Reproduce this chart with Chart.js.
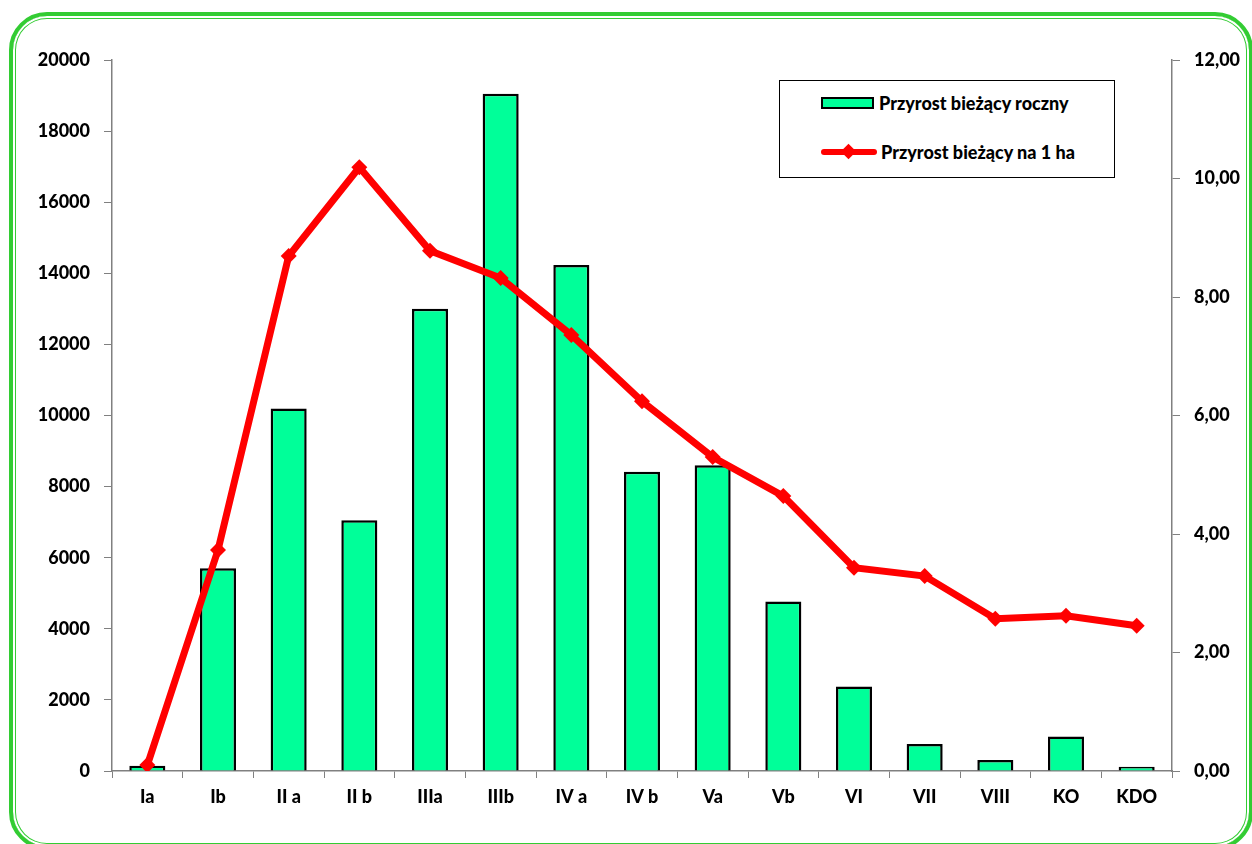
<!DOCTYPE html>
<html>
<head>
<meta charset="utf-8">
<script src="https://cdn.jsdelivr.net/npm/chart.js@4/dist/chart.umd.min.js"></script>
<style>
    html, body { margin: 0; padding: 0; background: #fff; overflow: hidden; }
    #wrap { position: relative; width: 1252px; height: 844px; overflow: hidden; }
    #frame {
        position: absolute; left: 9px; top: 12px; width: 1236px; height: 830px;
        border: 4px solid #33cc33; border-radius: 38px;
        box-shadow: inset 0 0 0 2px #fff, inset 0 0 0 3px #33cc33;
    }
    #chartBox { position: absolute; left: 0; top: 0; width: 1252px; height: 844px; }
    #legend {
        position: absolute; left: 779px; top: 80px; width: 334px; height: 96px;
        border: 1px solid #000; background: #fff;
        font-family: Lato, "Open Sans", sans-serif; font-weight: 900; font-size: 18px;
    }
    .item { position: absolute; left: 41px; display: flex; align-items: center; white-space: nowrap; }
    .swatch-bar { width: 49px; height: 8px; border: 2px solid #000; background: #00ff99; margin-right: 5px; }
    .swatch-line { position: relative; width: 56px; height: 6px; background: #ff0000; border-radius: 3px; margin-right: 4px; }
    .swatch-line span {
        position: absolute; left: 22px; top: -3px; width: 11px; height: 11px;
        background: #ff0000; transform: rotate(45deg);
    }
</style>
</head>
<body>
<div id="wrap">
    <div id="frame"></div>
    <div id="chartBox"><canvas id="chart"></canvas></div>
    <div id="legend"></div>
</div>
<script>
const categories = ['Ia', 'Ib', 'II a', 'II b', 'IIIa', 'IIIb', 'IV a', 'IV b', 'Va', 'Vb', 'VI', 'VII', 'VIII', 'KO', 'KDO'];
const annualGrowth = [150, 5700, 10200, 7050, 13000, 19050, 14230, 8420, 8600, 4770, 2380, 760, 310, 970, 120];
const growthPerHa = [0.10, 3.73, 8.69, 10.19, 8.78, 8.32, 7.36, 6.24, 5.30, 4.64, 3.43, 3.29, 2.57, 2.62, 2.45];
const seriesNames = ['Przyrost bieżący roczny', 'Przyrost bieżący na 1 ha'];

const font = { family: 'Lato, "Open Sans", sans-serif', weight: '900', size: 18 };

const ctx = document.getElementById('chart').getContext('2d');
const chart = new Chart(ctx, {
    data: {
        labels: categories,
        datasets: [
            {
                type: 'line',
                label: seriesNames[1],
                data: growthPerHa,
                yAxisID: 'yR',
                borderColor: '#ff0000',
                backgroundColor: '#ff0000',
                borderWidth: 7,
                pointStyle: 'rectRot',
                pointRadius: 8,
                pointBorderWidth: 0,
                tension: 0,
                order: 1
            },
            {
                type: 'bar',
                label: seriesNames[0],
                data: annualGrowth,
                yAxisID: 'y',
                backgroundColor: '#00ff99',
                borderColor: '#000',
                borderWidth: 2.5,
                categoryPercentage: 1,
                barPercentage: 0.51,
                order: 2
            }
        ]
    },
    options: {
        responsive: true,
        maintainAspectRatio: false,
        animation: false,
        layout: { padding: { top: 60, left: 0, right: 0, bottom: 0 } },
        plugins: { legend: { display: false }, tooltip: { enabled: false } },
        scales: {
            x: {
                offset: true,
                grid: { offset: true, drawOnChartArea: false, drawTicks: true, tickLength: 7, color: '#808080' },
                border: { color: '#808080', width: 1.5 },
                ticks: { color: '#000', font: font, padding: 8, maxRotation: 0 },
                afterFit: (s) => { s.height = 73; }
            },
            y: {
                position: 'left',
                min: 0, max: 20000,
                grid: { drawOnChartArea: false, tickLength: 8, color: '#808080' },
                border: { color: '#808080', width: 1.5 },
                ticks: {
                    stepSize: 2000, color: '#000', font: font, padding: 14,
                    callback: (v) => String(v)
                },
                afterFit: (s) => { s.width = 112; }
            },
            yR: {
                position: 'right',
                min: 0, max: 12,
                grid: { drawOnChartArea: false, tickLength: 8, color: '#808080' },
                border: { color: '#808080', width: 1.5 },
                ticks: {
                    stepSize: 2, color: '#000', font: font, padding: 14,
                    callback: (v) => v.toFixed(2).replace('.', ',')
                },
                afterFit: (s) => { s.width = 80; }
            }
        }
    }
});

// legend as html, built from dataset names
const legend = document.getElementById('legend');
legend.innerHTML = `
    <div class="item" style="top:11px"><div class="swatch-bar"></div>${seriesNames[0]}</div>
    <div class="item" style="top:60px"><div class="swatch-line"><span></span></div>${seriesNames[1]}</div>
`;
</script>
</body>
</html>
